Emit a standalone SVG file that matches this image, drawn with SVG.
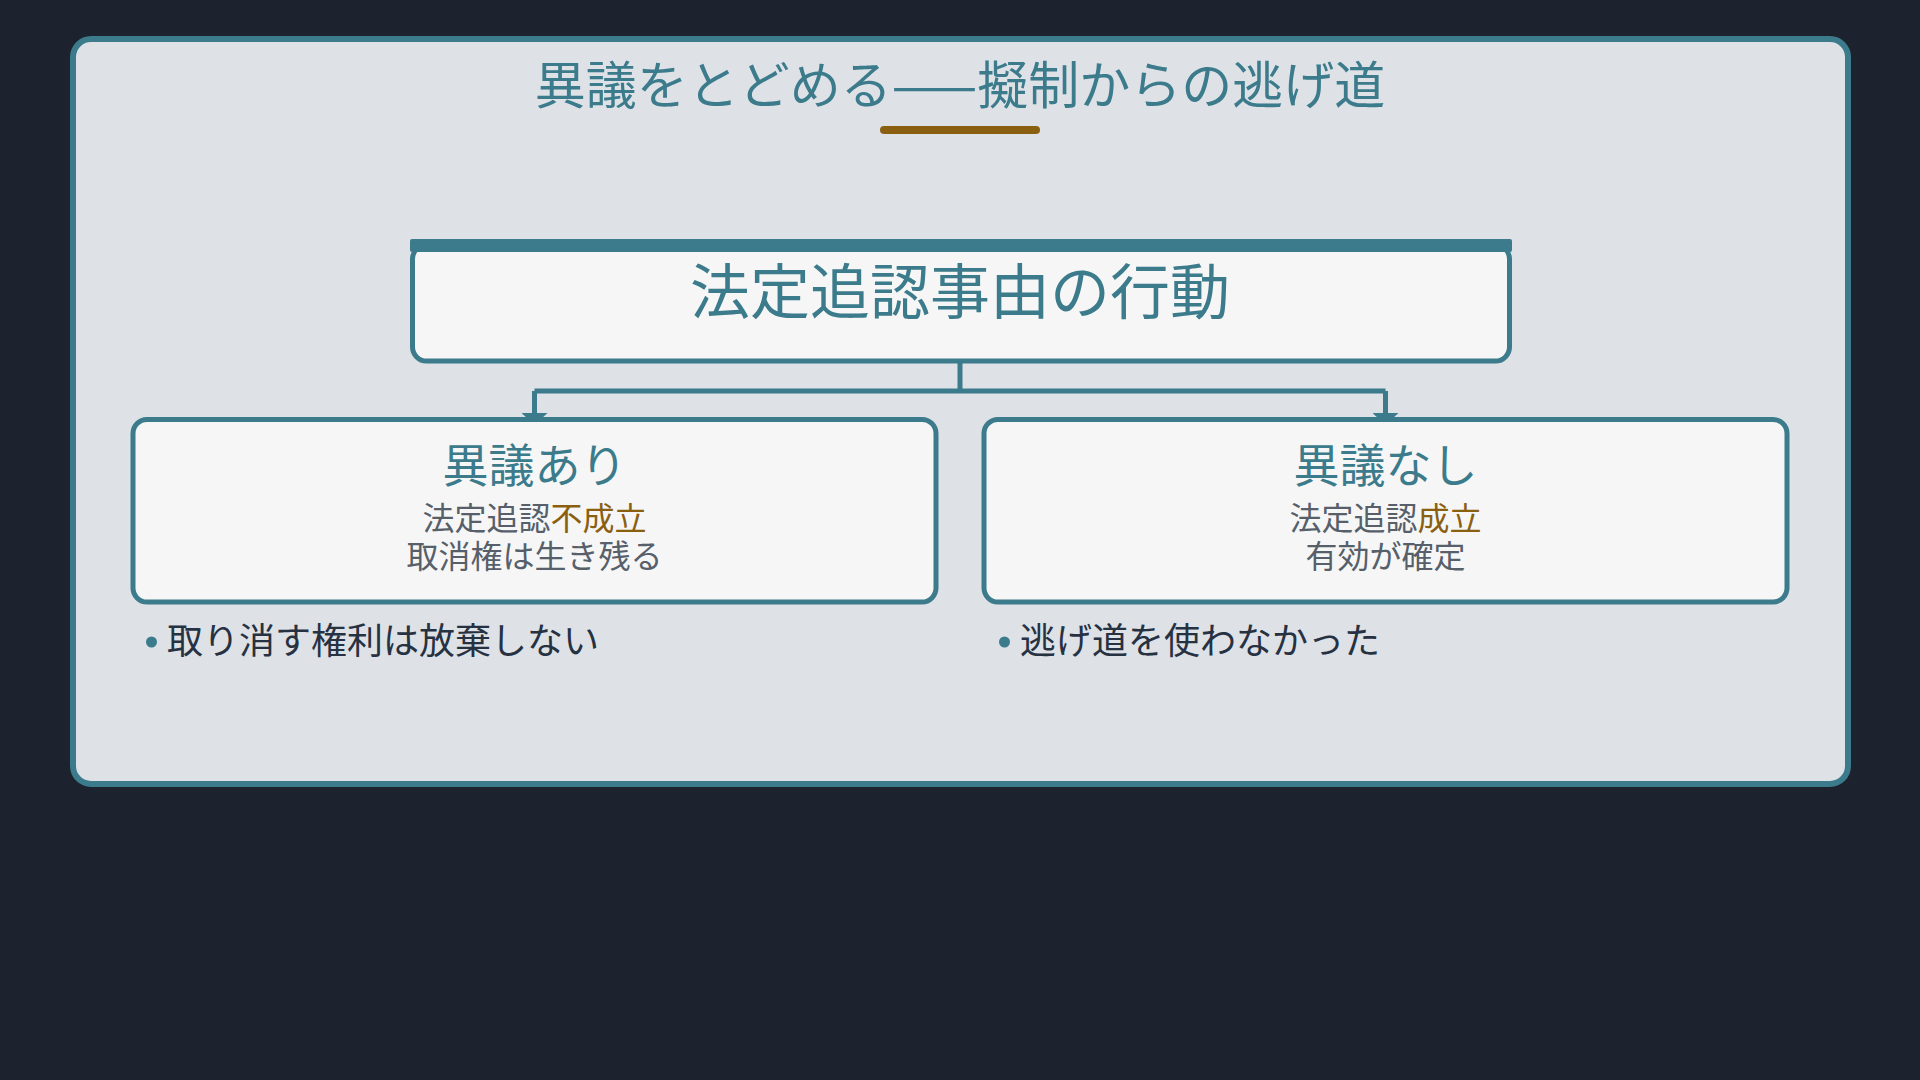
<svg xmlns="http://www.w3.org/2000/svg" width="1920" height="1080" viewBox="0 0 1920 1080">
  <style>
    text { font-family: "Noto Sans CJK JP", "Noto Sans CJK SC", "Noto Sans", sans-serif; }
    .teal { fill: #3b7b8b; }
    .gray { fill: #565f6a; }
    .gold { fill: #8a5f10; }
    .dark { fill: #263142; }
    .node { fill: #f6f6f6; stroke: #3b7b8b; stroke-width: 5; }
    .conn { fill: none; stroke: #3b7b8b; stroke-width: 5; }
  </style>
  <defs>
    <marker id="arrow" markerUnits="userSpaceOnUse" markerWidth="14" markerHeight="26" refX="1" refY="13" orient="auto" viewBox="0 0 14 26">
      <path d="M0,0 L12,13 L0,26 Z" fill="#3b7b8b"/>
    </marker>
  </defs>
  <rect x="0" y="0" width="1920" height="1080" fill="#1c232e"/>
  <g id="panel">
    <rect x="73" y="39" width="1775" height="745" rx="18" fill="#dee1e6" stroke="#3b7b8b" stroke-width="6"/>
  </g>
  <g id="title">
    <text x="960" y="104" font-size="51" text-anchor="middle" class="teal">異議をとどめる——擬制からの逃げ道</text>
    <line x1="884" y1="130" x2="1036" y2="130" stroke="#8a5f10" stroke-width="8" stroke-linecap="round"/>
  </g>
  <g id="connectors">
    <path class="conn" d="M960,362 V391 M534.5,391 H1385.5"/>
    <path class="conn" d="M534.5,391 V414" marker-end="url(#arrow)"/>
    <path class="conn" d="M1385.5,391 V414" marker-end="url(#arrow)"/>
  </g>
  <g id="node-root">
    <rect class="node" x="412.5" y="245" width="1097" height="116" rx="14"/>
    <rect x="410" y="239" width="1102" height="13" rx="2" fill="#3b7b8b"/>
    <text x="960" y="314" font-size="60" text-anchor="middle" class="teal">法定追認事由の行動</text>
  </g>
  <g id="node-objection">
    <rect class="node" x="133" y="419.5" width="803" height="182.5" rx="14"/>
    <text x="534.5" y="482" font-size="46" text-anchor="middle" class="teal">異議あり</text>
    <text x="534.5" y="530" font-size="32" text-anchor="middle" class="gray">法定追認<tspan class="gold">不成立</tspan></text>
    <text x="534.5" y="568" font-size="32" text-anchor="middle" class="gray">取消権は生き残る</text>
  </g>
  <g id="node-no-objection">
    <rect class="node" x="984" y="419.5" width="803" height="182.5" rx="14"/>
    <text x="1385.5" y="482" font-size="46" text-anchor="middle" class="teal">異議なし</text>
    <text x="1385.5" y="530" font-size="32" text-anchor="middle" class="gray">法定追認<tspan class="gold">成立</tspan></text>
    <text x="1385.5" y="568" font-size="32" text-anchor="middle" class="gray">有効が確定</text>
  </g>
  <g id="bullet-left">
    <circle cx="151.5" cy="642" r="5.5" fill="#3b7b8b"/>
    <text x="167" y="654" font-size="36" class="dark">取り消す権利は放棄しない</text>
  </g>
  <g id="bullet-right">
    <circle cx="1004.5" cy="642" r="5.5" fill="#3b7b8b"/>
    <text x="1020" y="654" font-size="36" class="dark">逃げ道を使わなかった</text>
  </g>
</svg>
